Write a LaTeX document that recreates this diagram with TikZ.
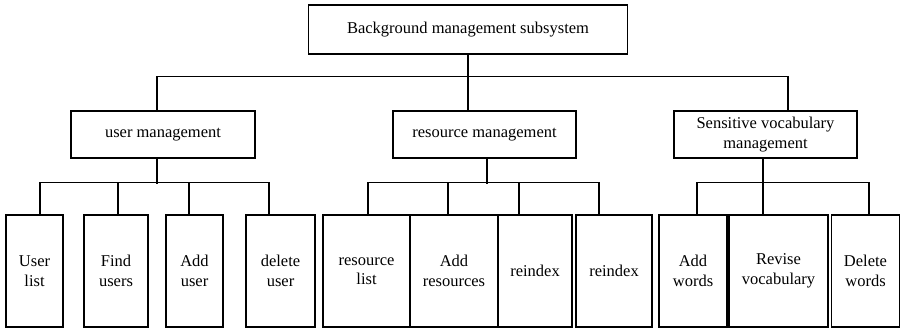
\documentclass[tikz,border=0pt]{standalone}
\usepackage{fontspec}
\setmainfont{Liberation Serif}
\begin{document}
\begin{tikzpicture}[x=1pt,y=-1pt,
  box/.style={draw, line width=1.1pt, rectangle, inner sep=0pt, align=center,
    font=\fontsize{16.5}{19.5}\selectfont},
  conn/.style={line width=1.1pt}]
\useasboundingbox (0,0) rectangle (901,331);
% level 0
\node[box, minimum width=319pt, minimum height=49pt] (top) at (468,29.5) {Background management subsystem};
% level 1
\node[box, minimum width=184pt, minimum height=47pt] (user) at (163,134.5) {user management};
\node[box, minimum width=183pt, minimum height=47pt] (res) at (484.5,134.5) {resource management};
\node[box, minimum width=183pt, minimum height=47pt] (sens) at (765.5,134.5) {Sensitive vocabulary\\management};
% level 2
\node[box, minimum width=57pt, minimum height=112pt] (ul) at (34.5,271) {User\\list};
\node[box, minimum width=64pt, minimum height=112pt] (fu) at (116,271) {Find\\users};
\node[box, minimum width=57pt, minimum height=112pt] (au) at (194.5,271) {Add\\user};
\node[box, minimum width=69pt, minimum height=112pt] (du) at (280.5,271) {delete\\user};
\node[box, minimum width=87pt, minimum height=112pt] (rl) at (366.5,271) {resource\\list};
\node[box, minimum width=88pt, minimum height=112pt] (ar) at (454,271) {Add\\resources};
\node[box, minimum width=74pt, minimum height=112pt] (ri1) at (535,271) {reindex};
\node[box, minimum width=76pt, minimum height=112pt] (ri2) at (614,271) {reindex};
\node[box, minimum width=68pt, minimum height=112pt] (aw) at (693,271) {Add\\words};
\node[box, minimum width=99pt, minimum height=112pt] (rv) at (778.5,271) {Revise\\vocabulary};
\node[box, minimum width=68pt, minimum height=112pt] (dw) at (865.5,271) {Delete\\words};
% connectors level 0-1
\draw[conn] (top.south) -- ([xshift=-16.5pt]res.north);
\draw[conn] ([xshift=-6pt]user.north) -- ++(0,-34) -| ([xshift=22.5pt]sens.north);
% user group
\draw[conn] ([xshift=-6pt]user.south) -- ++(0,25);
\draw[conn] ([xshift=5.5pt]ul.north) -- ++(0,-32) -| ([xshift=-11.5pt]du.north);
\draw[conn] ([xshift=2pt]fu.north) -- ++(0,-32);
\draw[conn] ([xshift=-5.5pt]au.north) -- ++(0,-32);
% resource group
\draw[conn] ([xshift=2.5pt]res.south) -- ++(0,25);
\draw[conn] ([xshift=1.5pt]rl.north) -- ++(0,-32) -| ([xshift=-15pt]ri2.north);
\draw[conn] ([xshift=-6pt]ar.north) -- ++(0,-32);
\draw[conn] ([xshift=-16pt]ri1.north) -- ++(0,-32);
% sensitive group
\draw[conn] ([xshift=-2.5pt]sens.south) -- ([xshift=-15.5pt]rv.north);
\draw[conn] ([xshift=4pt]aw.north) -- ++(0,-32) -| ([xshift=3.5pt]dw.north);
\end{tikzpicture}
\end{document}
